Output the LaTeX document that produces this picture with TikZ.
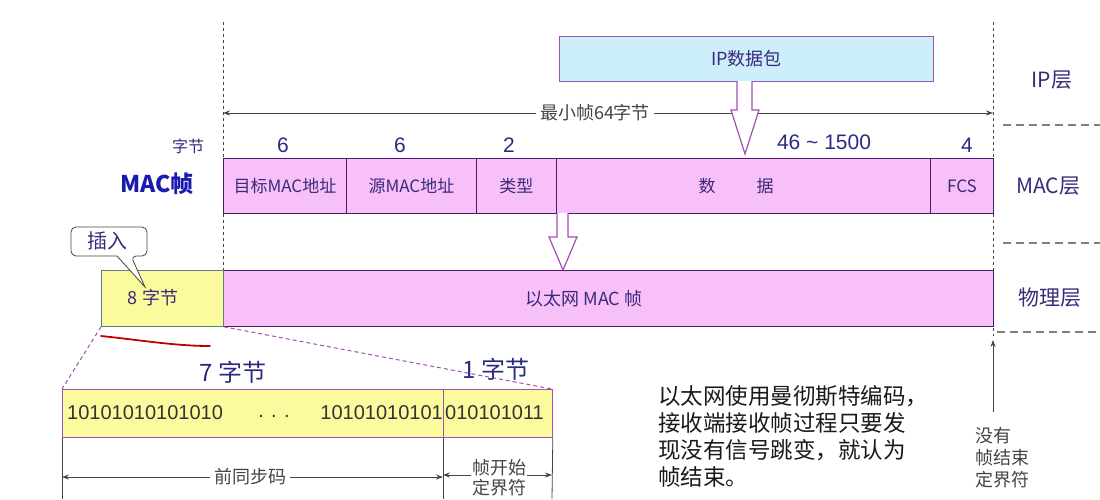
\documentclass[tikz,border=0pt]{standalone}
\usepackage{fontspec}
\setmainfont{Noto Sans CJK SC}
\newfontfamily\lat{Liberation Sans}
\usetikzlibrary{arrows.meta,calc}
\newcommand\myfs[1]{\fontsize{#1}{#1}\selectfont}
\definecolor{pinkf}{HTML}{F8C0F8}
\definecolor{framec}{HTML}{4A1A6A}
\definecolor{yellowf}{HTML}{FBFB9E}
\definecolor{bluef}{HTML}{CDEEFB}
\definecolor{purpl}{HTML}{A050B0}
\definecolor{navy}{HTML}{2A2A80}
\definecolor{labc}{HTML}{3A2A7A}
\definecolor{macblue}{HTML}{1A1AB0}
\definecolor{dgray}{HTML}{444444}
\tikzset{
  field/.style={draw=framec, fill=pinkf, line width=0.8pt, inner sep=0pt, anchor=north west, text=labc, font=\myfs{17}},
  num/.style={text=navy, font=\lat\myfs{21}, inner sep=0pt},
  layer/.style={text=labc, font=\myfs{21}, inner sep=0pt},
  vdash/.style={draw=dgray, line width=1pt, dash pattern=on 3pt off 3pt},
  hdash/.style={draw=gray, line width=1.2pt, dash pattern=on 8pt off 5pt},
  hollow/.style={draw=purpl, fill=white, line width=1.2pt, line join=miter},
  dimarr/.style={draw=dgray, line width=0.8pt, {Stealth[length=7pt,width=5pt]}-{Stealth[length=7pt,width=5pt]}},
  onearr/.style={draw=dgray, line width=0.8pt, -{Stealth[length=7pt,width=5pt]}},
  zoomline/.style={draw=purpl, line width=1pt, dash pattern=on 4pt off 3pt},
  bits/.style={text=black!80, font=\lat\myfs{20}, inner sep=0pt},
}
\begin{document}
\begin{tikzpicture}[x=1pt,y=-1pt]
\useasboundingbox (0,0) rectangle (1100,499);
% layer separators
\draw[vdash] (223,22) -- (223,270);
\draw[vdash] (993,22) -- (993,336);
\draw[hdash] (1003,125) -- (1100,125);
\draw[hdash] (1003,243) -- (1100,243);
\draw[hdash] (997,332) -- (1100,332);
\node[layer] (lip) at (1052,80) {IP层};
\node[layer] (lmac) at (1048,186) {MAC层};
\node[layer] (lphy) at (1050,298) {物理层};
% IP packet
\node[draw=purpl, fill=bluef, line width=1pt, anchor=north west, minimum width=374pt, minimum height=45pt, inner sep=0pt, text=labc, font=\myfs{18}] (ip) at (559,36) {IP数据包};
% min frame
\coordinate (mfl) at (223,113);
\coordinate (mfr) at (993,113);
\draw[dimarr] (mfl) -- (mfr);
\node[fill=white, text=dgray, font=\myfs{18}, inner sep=4pt] (mf) at (595,113) {最小帧64字节};
% MAC frame fields
\node[text=labc, font=\myfs{16}, inner sep=0pt] (zj) at (188,146) {字节};
\node[text=macblue, font=\bfseries\myfs{23}, inner sep=0pt] (macf) at (157,184) {MAC帧};
\node[field, minimum width=123pt, minimum height=55pt] (f1) at (223,158) {目标MAC地址};
\node[field, minimum width=130pt, minimum height=55pt] (f2) at (346,158) {源MAC地址};
\node[field, minimum width=80pt, minimum height=55pt] (f3) at (476,158) {类型};
\node[field, minimum width=374pt, minimum height=55pt] (f4) at (556,158) {};
\node[field, minimum width=63pt, minimum height=55pt] (f5) at (930,158) {FCS};
\node[text=labc, font=\myfs{17}, inner sep=0pt] (d1) at (707,186) {数};
\node[text=labc, font=\myfs{17}, inner sep=0pt] (d2) at (765,186) {据};
\node[num] (n1) at (283,145) {6};
\node[num] (n2) at (400,145) {6};
\node[num] (n3) at (509,145) {2};
\node[num] (n4) at (824,142) {46 \textasciitilde{} 1500};
\node[num] (n5) at (967,145) {4};
% hollow arrow IP -> data
\draw[hollow] (737,81) -- (737,110) -- (731,110) -- (745,154) -- (759,110) -- (752,110) -- (752,81);
% physical layer
\node[draw=framec, fill=pinkf, line width=1.2pt, anchor=north west, minimum width=770pt, minimum height=56pt, inner sep=0pt] (phy) at (223,270) {};
\node[text=labc, font=\myfs{18}, inner sep=0pt] (phyt) at (584,299) {以太网 MAC 帧};
\node[draw=gray!70!teal, fill=yellowf, line width=0.8pt, anchor=north west, minimum width=122pt, minimum height=56pt, inner sep=0pt] (pre) at (101,270) {};
\node[text=labc, font=\myfs{18}, inner sep=0pt] (pret) at (153,298) {8 字节};
% hollow arrow MAC -> phy
\draw[hollow] (557,213) -- (557,237) -- (549,237) -- (563,270) -- (577,237) -- (568,237) -- (568,213);
% callout
\draw[draw=dgray, fill=white, line width=0.8pt, rounded corners=5pt] (71,241) |- (147,227) |- (131,256) [sharp corners] -- (145,287) -- (117,256) [rounded corners=5pt] -| (71,241) -- cycle;
\node[text=labc, font=\myfs{20}, inner sep=0pt] (ins) at (107,241) {插入};
% red stroke
\draw[red!75!black, line width=1.8pt, line cap=round] (101,336) .. controls (140,340) and (175,346) .. (210,346);
% zoom lines
\draw[zoomline] (pre.south west) -- (62,389);
\draw[zoomline] (pre.south east) -- (552,389);
\node[text=navy, font=\myfs{24}, inner sep=0pt] (s7) at (233,372) {7 字节};
\node[text=navy, font=\myfs{24}, inner sep=0pt] (s1) at (496,369) {1 字节};
% bottom bits
\node[draw=purpl, fill=yellowf, line width=0.8pt, anchor=north west, minimum width=381pt, minimum height=48pt, inner sep=0pt] (b7) at (62,389) {};
\node[draw=purpl, fill=yellowf, line width=0.8pt, anchor=north west, minimum width=109pt, minimum height=48pt, inner sep=0pt] (b1) at (443,389) {};
\node[bits, anchor=west] (t1) at (67,413) {10101010101010};
\node[bits] (t2) at (274,416) {. . .};
\node[bits, anchor=east] (t3) at (443,413) {10101010101};
\node[bits, anchor=west] (t4) at (445,413) {010101011};
\draw[draw=dgray, line width=0.8pt] (b7.south west) -- (62,499);
\draw[draw=dgray, line width=0.8pt] (b1.south west) -- (443,499);
\draw[draw=dgray, line width=0.8pt] (b1.south east) -- (552,499);
\coordinate (pl) at (62,477);
\coordinate (pr) at (443,477);
\draw[dimarr] (pl) -- (pr);
\node[fill=white, text=dgray, font=\myfs{18}, inner sep=4pt] (pq) at (250,477) {前同步码};
\coordinate (sl) at (443,475);
\coordinate (sr) at (552,475);
\draw[dimarr] (sl) -- (sr);
\node[fill=white, text=dgray, font=\fontsize{18}{20}\selectfont, inner sep=1pt, align=center] (sfd) at (499,478) {帧开始\\定界符};
% explanatory text
\node[anchor=north west, align=left, text=black!90, font=\fontsize{22.5}{27}\selectfont, inner sep=0pt] (expl) at (658,385) {以太网使用曼彻斯特编码，\\接收端接收帧过程只要发\\现没有信号跳变，就认为\\帧结束。};
% end marker
\coordinate (ea) at (993,412);
\coordinate (eb) at (993,340);
\draw[onearr] (ea) -- (eb);
\node[anchor=north west, align=left, text=dgray, font=\fontsize{18}{22}\selectfont, inner sep=0pt] (nend) at (975,427) {没有\\帧结束\\定界符};
\end{tikzpicture}
\end{document}
